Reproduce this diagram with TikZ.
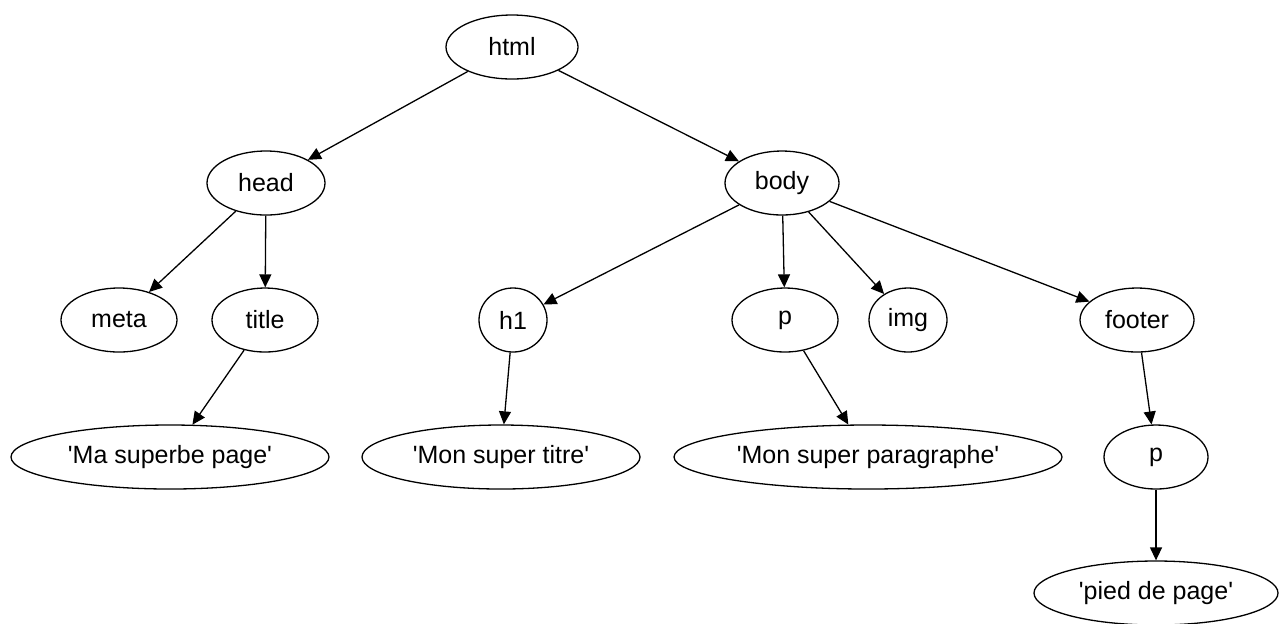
\documentclass[tikz,border=0pt]{standalone}
\usepackage{fontspec}
\setmainfont{Liberation Sans}
\usetikzlibrary{shapes.geometric,arrows.meta}
\begin{document}
\begin{tikzpicture}[x=0.5pt,y=-0.5pt,
  nd/.style={ellipse,draw,line width=0.65pt,inner sep=0pt,font=\fontsize{12.5}{14}\selectfont},
  ed/.style={line width=0.65pt,-{Triangle[length=6.5pt,width=6pt]}}]
\useasboundingbox (0,0) rectangle (1283,623);
\newcommand{\nd}[5]{\node[nd,minimum width=#3pt,minimum height=32pt] (#1) at (#4,#5) {#2};}
\newcommand{\q}{\textquotesingle}
\nd{html}{html}{66}{512}{47}
\nd{head}{head}{59}{266}{183}
\nd{body}{body}{57}{782}{183}
\nd{meta}{meta}{58}{119}{320}
\nd{title}{title}{53}{265}{320}
\nd{h1}{h1}{34}{513}{320}
\nd{p}{p}{53}{785}{320}
\nd{img}{img}{39}{908}{320}
\nd{footer}{footer}{57}{1137}{320}
\nd{ma}{\q Ma superbe page\q}{159}{170}{457}
\nd{mon}{\q Mon super titre\q}{139}{501}{457}
\nd{par}{\q Mon super paragraphe\q}{194}{868}{457}
\nd{pb}{p}{52}{1156}{457}
\nd{pied}{\q pied de page\q}{122}{1156}{593}
\draw[ed] (html) -- (head);
\draw[ed] (html) -- (body);
\draw[ed] (head) -- (meta);
\draw[ed] (head) -- (title);
\draw[ed] (title) -- (ma);
\draw[ed] (body) -- (h1);
\draw[ed] (body) -- (p);
\draw[ed] (body) -- (img);
\draw[ed] (body) -- (footer);
\draw[ed] (h1) -- (mon);
\draw[ed] (p) -- (par);
\draw[ed] (footer) -- (pb);
\draw[ed] (pb) -- (pied);
\end{tikzpicture}
\end{document}
